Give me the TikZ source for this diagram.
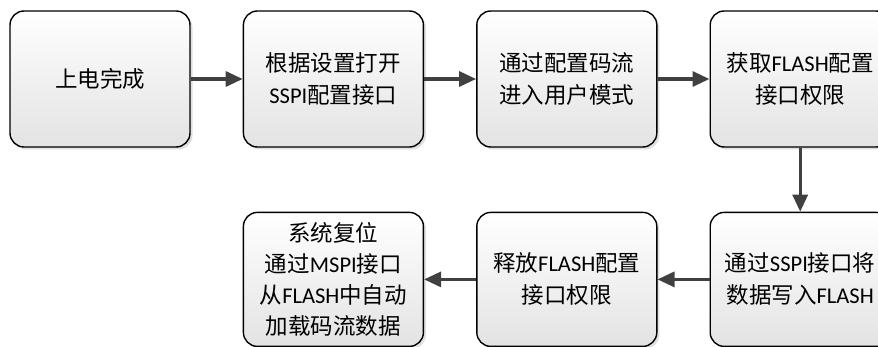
\documentclass[tikz,border=0pt]{standalone}
\usepackage{fontspec}
\setmainfont{Noto Sans CJK SC}
\newfontfamily\latfont{Carlito}
\newcommand{\asc}[1]{{\latfont #1}}
\definecolor{flowarrow}{RGB}{64,64,64}
\usetikzlibrary{arrows.meta,positioning,shadows}

\begin{document}
\begin{tikzpicture}[x=1pt, y=1pt,
    stepbox/.style={rounded corners=14pt, draw=black, line width=1.4pt,
                    top color=white, bottom color=black!11,
                    drop shadow={shadow xshift=2.5pt, shadow yshift=-2.5pt, opacity=0.25},
                    minimum width=180pt, minimum height=136pt,
                    align=center, inner sep=0pt,
                    font=\fontsize{22.5}{32}\selectfont},
    flow/.style={draw=flowarrow, line width=3.2pt,
                 -{Triangle[length=17pt, width=15pt]}, color=flowarrow}
  ]
    \useasboundingbox (0,0) rectangle (878,-347);

    % top row: left to right
    \node[stepbox] (power) at (100,-79) {上电完成};
    \node[stepbox, right=52pt of power] (open) {根据设置打开\\\asc{SSPI}配置接口};
    \node[stepbox, right=52pt of open] (user) {通过配置码流\\进入用户模式};
    \node[stepbox, right=52pt of user] (grant) {获取\asc{FLASH}配置\\接口权限};

    % bottom row: right to left
    \node[stepbox, below=64pt of grant, minimum height=134pt] (write) {通过\asc{SSPI}接口将\\数据写入\asc{FLASH}};
    \node[stepbox, left=52pt of write, minimum height=134pt] (release) {释放\asc{FLASH}配置\\接口权限};
    \node[stepbox, left=52pt of release, minimum height=134pt,
          font=\fontsize{22.5}{31}\selectfont] (reset)
      {系统复位\\通过\asc{MSPI}接口\\从\asc{FLASH}中自动\\加载码流数据};

    % connectors
    \draw[flow] (power) -- (open);
    \draw[flow] (open) -- (user);
    \draw[flow] (user) -- (grant);
    \draw[flow] (grant) -- (write);
    \draw[flow] (write) -- (release);
    \draw[flow] (release) -- (reset);
  \end{tikzpicture}
\end{document}
